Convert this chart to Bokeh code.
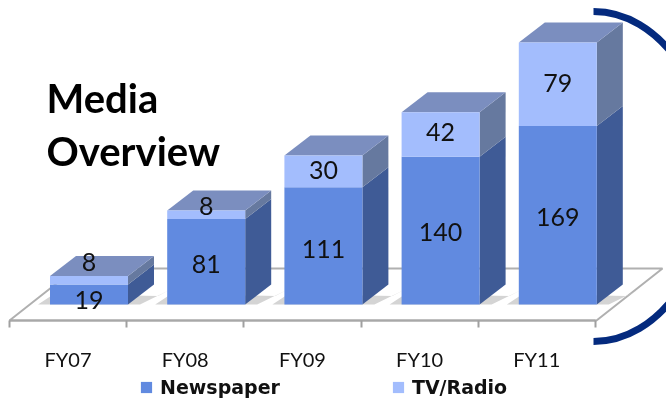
from bokeh.plotting import figure
from bokeh.embed import file_html
from bokeh.resources import INLINE
from bokeh.core.properties import value
from bokeh.models import FixedTicker, Label, Legend, LegendItem, ColumnDataSource

categories = ["FY07", "FY08", "FY09", "FY10", "FY11"]
newspaper = [19, 81, 111, 140, 169]
tv_radio = [8, 8, 30, 42, 79]
news_label_nudge = [-6, -2, -3, -1, -2]
tv_label_nudge = [18, 9, 1, 2, 1]

W, H = 666, 400
BASE_PX, UNIT_PX = 304, 1.056
C0_PX, STEP_PX = 88.5, 117.2
HALF = 39 / STEP_PX
DX = 26 / STEP_PX
DY = 20 / UNIT_PX
FRONT = -21 / STEP_PX
def px(x): return (x - C0_PX) / STEP_PX
def py(y): return (BASE_PX - y) / UNIT_PX

p = figure(width=W, height=H, x_range=(px(0), px(W)), y_range=(py(H), py(0)),
           toolbar_location=None, output_backend="svg", min_border=0, outline_line_color=None,
           background_fill_color="white", border_fill_color="white")
p.styles = {"position": "fixed", "left": "0", "top": "0"}
p.grid.visible = False
p.yaxis.visible = False

# floor
p.patch([px(9), px(596), px(662), px(75)], [py(320), py(320), py(268), py(268)],
        fill_color="white", line_color="#b0b0b0", line_width=2)

xs = list(range(5))
# shadows
p.patches([[i - HALF - 12 / STEP_PX, i - HALF + 4 / STEP_PX, i + HALF + DX + 4 / STEP_PX, i + HALF + DX + 16 / STEP_PX, i + HALF + 12 / STEP_PX] for i in xs],
          [[0, 10, 8, 14, 0] for _ in xs], fill_color="#d4d4d4", line_color=None)

news_top = newspaper
tot_top = [a + b for a, b in zip(newspaper, tv_radio)]

# sides
p.patches([[i + HALF, i + HALF + DX, i + HALF + DX, i + HALF] for i in xs],
          [[0, DY, n + DY, n] for n in news_top], fill_color="#3f5b96", line_color=None)
p.patches([[i + HALF, i + HALF + DX, i + HALF + DX, i + HALF] for i in xs],
          [[n, n + DY, t + DY, t] for n, t in zip(news_top, tot_top)], fill_color="#66799f", line_color=None)
# tops
p.patches([[i - HALF, i + HALF, i + HALF + DX, i - HALF + DX] for i in xs],
          [[t, t, t + DY, t + DY] for t in tot_top], fill_color="#7b8ebf", line_color=None)
# fronts
r_news = p.vbar(x=xs, bottom=0, top=newspaper, width=2 * HALF, fill_color="#618ae0", line_color=None)
r_tv = p.vbar(x=xs, bottom=newspaper, top=tot_top, width=2 * HALF, fill_color="#a3bdfd", line_color=None)

# data labels
lab_x = xs + xs
lab_y = [n / 2 for n in newspaper] + [n + t / 2 for n, t in zip(newspaper, tv_radio)]
lab_t = [str(v) for v in newspaper + tv_radio]
lab_o = [-(v) for v in news_label_nudge] + [-(v) for v in tv_label_nudge]
src = ColumnDataSource(dict(x=lab_x, y=lab_y, t=lab_t, o=lab_o))
p.text(x="x", y="y", text="t", y_offset="o", source=src, text_align="center", text_baseline="middle",
       text_font=value("Lato"), text_font_size="25px", text_color="#111111")

# arc
a, b, cx, cy, k = 118, 165, 593, 176, 0.5523
p.bezier(x0=[px(cx), px(cx + a)], y0=[py(cy - b), py(cy)],
         x1=[px(cx + a), px(cx)], y1=[py(cy), py(cy + b)],
         cx0=[px(cx + k * a), px(cx + a)], cy0=[py(cy - b), py(cy + k * b)],
         cx1=[px(cx + a), px(cx + k * a)], cy1=[py(cy - k * b), py(cy + b)],
         line_color="#042a7e", line_width=7)

# axis
ax = p.xaxis[0]
ax.fixed_location = py(320)
ax.ticker = FixedTicker(ticks=[i + FRONT for i in xs], minor_ticks=[i + FRONT - 0.5 for i in range(6)])
ax.major_label_overrides = {i + FRONT: c for i, c in zip(xs, categories)}
ax.bounds = (FRONT - 0.5, 4 + FRONT + 0.5)
ax.axis_line_color = "#a8a8a8"
ax.axis_line_width = 2
ax.major_tick_line_color = None
ax.minor_tick_line_color = "#a0a0a0"
ax.minor_tick_line_width = 2
ax.minor_tick_in = 0
ax.minor_tick_out = 7
ax.major_label_standoff = 19
ax.major_label_text_font = "Lato"
ax.major_label_text_font_size = "20px"
ax.major_label_text_color = "#111111"

for txt, y in (("Media", 97), ("Overview", 150)):
    p.add_layout(Label(x=46, y=H - y, x_units="screen", y_units="screen", text=txt,
                       text_font="Lato", text_font_style="bold", text_font_size="40px",
                       text_baseline="middle", text_color="black"))

leg = Legend(items=[LegendItem(label="Newspaper", renderers=[r_news]),
                    LegendItem(label="TV/Radio", renderers=[r_tv])],
             orientation="horizontal", location=(139, 2), border_line_color=None,
             background_fill_alpha=0, margin=0, padding=4, spacing=111,
             glyph_width=14, glyph_height=14, label_standoff=7,
             label_text_font="DejaVu Sans", label_text_font_style="bold", label_text_font_size="19px",
             label_text_color="#111111", label_height=18)
p.add_layout(leg)

open("out.html", "w").write(file_html(p, INLINE))
